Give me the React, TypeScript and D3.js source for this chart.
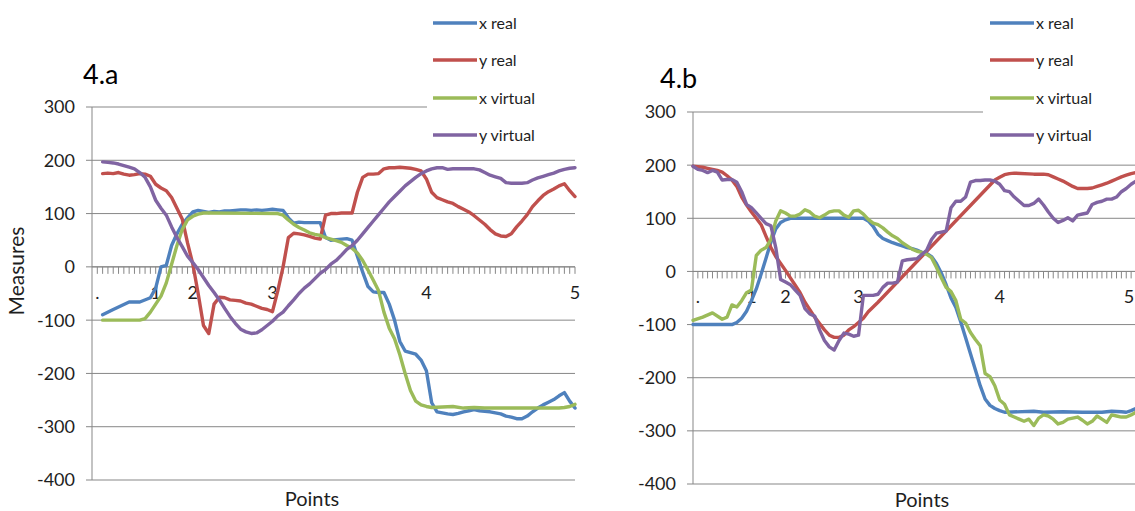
import React from "react";
import * as d3 from "d3";

type Pt = [number, number];

// Category axis: 92 points, labelled at a handful of positions
const CATEGORY_COUNT = 92;
const categoryLabels = [".", "1", "2", "3", "4", "5"];
const categoryLabelIdx = [1, 12, 19, 34, 63, 91];
const yTicks = [300, 200, 100, 0, -100, -200, -300, -400];

const seriesNames = ["x real", "y real", "x virtual", "y virtual"];
const seriesColors = ["#4F81BD", "#C0504D", "#9BBB59", "#8064A2"];

// ---- 4.a ----
const xRealA: Pt[] = [
  [2, -90], [4, -80], [7, -66], [9, -66], [11, -58], [12, -40], [13, 0], [14, 3], [15, 40], [16, 62],
  [17, 80], [18, 92], [19, 103], [20, 106], [21, 104], [22, 102], [23, 104], [24, 103], [25, 105], [26, 105],
  [27, 106], [28, 107], [29, 107], [30, 106], [31, 107], [32, 106], [33, 107], [34, 108], [35, 107], [36, 106],
  [37, 92], [38, 82], [39, 84], [40, 83], [41, 83], [42, 83], [43, 83], [44, 55], [45, 50], [46, 51],
  [47, 52], [48, 53], [49, 50], [50, 20], [51, -10], [52, -37], [53, -47], [54, -48], [55, -48], [56, -70],
  [57, -100], [58, -140], [59, -158], [60, -161], [61, -164], [62, -175], [63, -195], [64, -255], [65, -272], [66, -274],
  [67, -276], [68, -277], [69, -275], [70, -272], [71, -270], [72, -268], [73, -270], [74, -271], [75, -272], [76, -274],
  [77, -276], [78, -280], [79, -282], [80, -285], [81, -285], [82, -280], [83, -272], [84, -265], [85, -259], [86, -254],
  [87, -249], [88, -242], [89, -236], [90, -252], [91, -265],
];
const yRealA: Pt[] = [
  [2, 175], [3, 176], [4, 175], [5, 177], [6, 174], [7, 172], [8, 173], [9, 175], [10, 174], [11, 170],
  [12, 155], [13, 148], [14, 143], [15, 130], [16, 110], [17, 90], [18, 45], [19, 5], [20, -50], [21, -110],
  [22, -125], [23, -70], [24, -57], [25, -58], [26, -62], [27, -63], [28, -64], [29, -68], [30, -70], [31, -74],
  [32, -78], [33, -80], [34, -84], [35, -45], [36, 0], [37, 55], [38, 63], [39, 62], [40, 60], [41, 57],
  [42, 54], [43, 52], [44, 97], [45, 100], [46, 100], [47, 101], [48, 101], [49, 101], [50, 140], [51, 168],
  [52, 174], [53, 174], [54, 175], [55, 184], [56, 186], [57, 186], [58, 187], [59, 186], [60, 185], [61, 183],
  [62, 180], [63, 165], [64, 140], [65, 130], [66, 126], [67, 122], [68, 119], [69, 113], [70, 108], [71, 103],
  [72, 96], [73, 88], [74, 80], [75, 70], [76, 62], [77, 58], [78, 57], [79, 62], [80, 75], [81, 86],
  [82, 98], [83, 113], [84, 124], [85, 134], [86, 141], [87, 146], [88, 152], [89, 156], [90, 143], [91, 132],
];
const xVirtualA: Pt[] = [
  [2, -100], [9, -100], [10, -97], [11, -85], [12, -70], [13, -55], [14, -30], [15, 5], [16, 40], [17, 70],
  [18, 88], [19, 95], [20, 99], [21, 101], [22, 101], [35, 100], [36, 97], [37, 88], [38, 80], [39, 74],
  [40, 69], [41, 64], [42, 61], [43, 59], [44, 55], [45, 52], [46, 49], [47, 46], [48, 40], [49, 35],
  [50, 26], [51, 12], [52, -6], [53, -25], [54, -45], [55, -85], [56, -115], [57, -135], [58, -165], [59, -200],
  [60, -232], [61, -252], [62, -259], [63, -262], [64, -264], [66, -263], [68, -262], [70, -265], [72, -264], [74, -265],
  [78, -265], [82, -265], [86, -265], [88, -265], [89, -264], [90, -262], [91, -258],
];
const yVirtualA: Pt[] = [
  [2, 197], [3, 196], [4, 195], [5, 193], [6, 190], [7, 187], [8, 184], [9, 177], [10, 168], [11, 150],
  [12, 125], [13, 110], [14, 97], [15, 75], [16, 55], [17, 38], [18, 20], [19, 8], [20, -5], [21, -20],
  [22, -35], [23, -48], [24, -62], [25, -78], [26, -93], [27, -106], [28, -117], [29, -122], [30, -125], [31, -124],
  [32, -118], [33, -110], [34, -102], [35, -92], [36, -85], [37, -73], [38, -62], [39, -50], [40, -40], [41, -32],
  [42, -22], [43, -12], [44, -5], [45, 5], [46, 12], [47, 22], [48, 33], [49, 40], [50, 50], [51, 62],
  [52, 74], [53, 86], [54, 98], [55, 110], [56, 122], [57, 132], [58, 142], [59, 152], [60, 160], [61, 168],
  [62, 175], [63, 180], [64, 184], [65, 186], [66, 186], [67, 183], [68, 184], [72, 184], [73, 182], [74, 177],
  [75, 172], [76, 169], [77, 166], [78, 158], [79, 157], [81, 157], [82, 158], [83, 163], [84, 167], [85, 170],
  [86, 173], [87, 176], [88, 180], [89, 183], [90, 185], [91, 186],
];

// ---- 4.b ----
const xRealB: Pt[] = [
  [0, -100], [8, -100], [9, -96], [10, -88], [11, -75], [12, -55], [13, -33], [14, -5], [15, 25], [16, 55],
  [17, 80], [18, 92], [19, 97], [20, 100], [35, 100], [36, 95], [37, 85], [38, 70], [39, 62], [40, 58],
  [41, 54], [42, 51], [43, 48], [44, 45], [45, 43], [46, 40], [47, 36], [48, 34], [49, 28], [50, 15],
  [51, -3], [52, -25], [53, -50], [54, -68], [55, -95], [56, -125], [57, -155], [58, -185], [59, -215], [60, -240],
  [61, -252], [62, -258], [63, -262], [64, -265], [70, -263], [72, -265], [76, -264], [80, -265], [84, -265], [86, -263],
  [88, -264], [89, -265], [90, -262], [91, -258],
];
const yRealB: Pt[] = [
  [0, 198], [1, 197], [2, 196], [3, 194], [4, 192], [5, 190], [6, 187], [7, 180], [8, 172], [9, 160],
  [10, 140], [11, 125], [12, 112], [13, 100], [14, 88], [15, 66], [16, 45], [17, 28], [18, 15], [19, 2],
  [20, -12], [21, -26], [22, -40], [23, -58], [24, -72], [25, -86], [26, -98], [27, -110], [28, -120], [29, -124],
  [30, -124], [31, -120], [32, -110], [33, -104], [34, -96], [35, -88], [36, -76], [38, -58], [62, 172], [63, 177],
  [64, 182], [65, 184], [66, 185], [70, 183], [72, 183], [73, 182], [74, 178], [75, 174], [76, 170], [77, 165],
  [78, 160], [79, 156], [81, 156], [82, 157], [83, 160], [84, 163], [85, 166], [86, 170], [87, 174], [88, 178],
  [89, 181], [90, 184], [91, 186],
];
const xVirtualB: Pt[] = [
  [0, -92], [2, -86], [4, -78], [6, -90], [7, -86], [8, -63], [9, -67], [10, -55], [11, -40], [12, -35],
  [13, 30], [14, 40], [15, 45], [16, 60], [17, 95], [18, 114], [19, 110], [20, 104], [21, 104], [22, 108],
  [23, 116], [24, 112], [25, 104], [26, 101], [27, 106], [28, 112], [29, 114], [30, 114], [31, 106], [32, 102],
  [33, 114], [34, 115], [35, 108], [36, 98], [37, 91], [38, 88], [39, 82], [40, 74], [41, 67], [42, 62],
  [43, 54], [44, 48], [45, 42], [46, 38], [47, 36], [48, 32], [49, 26], [50, 8], [51, -12], [52, -30],
  [53, -38], [54, -55], [55, -90], [56, -97], [57, -115], [58, -128], [59, -140], [60, -192], [61, -198], [62, -215],
  [63, -242], [64, -250], [65, -270], [66, -274], [67, -278], [68, -282], [69, -278], [70, -290], [71, -276], [72, -270],
  [73, -272], [74, -278], [75, -287], [76, -284], [77, -278], [78, -276], [79, -274], [80, -280], [81, -287], [82, -282],
  [83, -272], [84, -278], [85, -284], [86, -270], [87, -272], [88, -274], [89, -274], [90, -270], [91, -265],
];
const yVirtualB: Pt[] = [
  [0, 198], [1, 192], [2, 190], [3, 186], [4, 190], [5, 187], [6, 172], [7, 173], [8, 173], [9, 168],
  [10, 150], [11, 126], [12, 120], [13, 110], [14, 100], [15, 90], [16, 86], [17, 45], [18, -15], [19, -20],
  [20, -25], [21, -35], [22, -45], [23, -70], [24, -80], [25, -84], [26, -110], [27, -130], [28, -142], [29, -148],
  [30, -130], [31, -116], [32, -118], [33, -122], [34, -120], [35, -45], [36, -45], [37, -45], [38, -43], [39, -30],
  [40, -22], [41, -22], [42, -20], [43, 20], [44, 22], [45, 23], [46, 24], [47, 32], [48, 40], [49, 60],
  [50, 72], [51, 74], [52, 76], [53, 120], [54, 132], [55, 132], [56, 140], [57, 168], [58, 171], [59, 171],
  [60, 172], [61, 172], [62, 170], [63, 164], [64, 152], [65, 150], [66, 140], [67, 132], [68, 124], [69, 124],
  [70, 128], [71, 136], [72, 125], [73, 112], [74, 100], [75, 92], [76, 96], [77, 101], [78, 95], [79, 106],
  [80, 108], [81, 110], [82, 126], [83, 130], [84, 132], [85, 136], [86, 136], [87, 140], [88, 150], [89, 156],
  [90, 164], [91, 170],
];

const FONT = "Lato, 'Open Sans', sans-serif";
const GRID = "#878787";
const TEXT = "#1e1e1e";
const SVG_W = 1135;

type PanelProps = {
  title: string;
  series: Pt[][];
  xRange: [number, number];
  yRange: [number, number];
  titlePos: [number, number];
  legendX: number;
  legendBoxX: number;
  catLabelY: number;
  xTitlePos: [number, number];
  yTitle?: string;
  yTitlePos?: [number, number];
};

function Panel(p: PanelProps) {
  const x = d3.scaleLinear().domain([0, CATEGORY_COUNT - 1]).range(p.xRange);
  const y = d3.scaleLinear().domain([-400, 300]).range(p.yRange);
  const line = d3
    .line<Pt>()
    .x((d) => x(d[0]))
    .y((d) => y(d[1]));
  const [x0, x1] = p.xRange;
  const y0 = y(0);
  const legendYs = [23, 60, 98, 135];

  return (
    <g>
      {/* horizontal gridlines with small outside ticks on the value axis */}
      {yTicks.map((t) => (
        <g key={t}>
          <line x1={x0 - 6} x2={x1} y1={y(t)} y2={y(t)} stroke={GRID} strokeWidth={1} />
          <text
            x={x0 - 17}
            y={y(t)}
            dy="0.36em"
            textAnchor="end"
            fontFamily={FONT}
            fontSize={18}
            fill={TEXT}
          >
            {t}
          </text>
        </g>
      ))}
      <line x1={x0} x2={x0} y1={y(300)} y2={y(-400)} stroke={GRID} strokeWidth={1} />

      {/* category axis crossing at 0 */}
      <line x1={x0} x2={x1} y1={y0} y2={y0} stroke={GRID} strokeWidth={1} />
      {d3.range(1, CATEGORY_COUNT).map((i) => (
        <line key={i} x1={x(i)} x2={x(i)} y1={y0} y2={y0 + 7} stroke={GRID} strokeWidth={1} />
      ))}
      {categoryLabels.map((lab, i) => (
        <text
          key={lab}
          x={Math.min(x(categoryLabelIdx[i]), SVG_W - 6)}
          y={p.catLabelY}
          textAnchor="middle"
          fontFamily={FONT}
          fontSize={18}
          fill={TEXT}
        >
          {lab}
        </text>
      ))}

      {/* legend panel sits above the top gridline */}
      <rect x={p.legendBoxX} y={0} width={200} height={150} fill="#ffffff" />

      {p.series.map((s, i) => (
        <path
          key={i}
          d={line(s) ?? ""}
          fill="none"
          stroke={seriesColors[i]}
          strokeWidth={3.4}
          strokeLinejoin="round"
          strokeLinecap="round"
        />
      ))}

      {seriesNames.map((name, i) => (
        <g key={name}>
          <line
            x1={p.legendX}
            x2={p.legendX + 44}
            y1={legendYs[i]}
            y2={legendYs[i]}
            stroke={seriesColors[i]}
            strokeWidth={3.4}
          />
          <text
            x={p.legendX + 46}
            y={legendYs[i]}
            dy="0.36em"
            fontFamily={FONT}
            fontSize={16}
            fill={TEXT}
          >
            {name}
          </text>
        </g>
      ))}

      <text x={p.titlePos[0]} y={p.titlePos[1]} fontFamily={FONT} fontSize={27} fill="#000">
        {p.title}
      </text>
      <text
        x={p.xTitlePos[0]}
        y={p.xTitlePos[1]}
        textAnchor="middle"
        fontFamily={FONT}
        fontSize={20}
        fill={TEXT}
      >
        Points
      </text>
      {p.yTitle && p.yTitlePos && (
        <text
          transform={`translate(${p.yTitlePos[0]},${p.yTitlePos[1]}) rotate(-90)`}
          textAnchor="middle"
          dy="0.35em"
          fontFamily={FONT}
          fontSize={21}
          fill={TEXT}
        >
          {p.yTitle}
        </text>
      )}
    </g>
  );
}

export default function App() {
  return (
    <svg
      width={SVG_W}
      height={511}
      viewBox={`0 0 ${SVG_W} 511`}
      style={{ position: "absolute", left: 0, top: 0, background: "#fff" }}
    >
      <rect width={SVG_W} height={511} fill="#fff" />
      <Panel
        title="4.a"
        series={[xRealA, yRealA, xVirtualA, yVirtualA]}
        xRange={[92, 575]}
        yRange={[480, 107]}
        titlePos={[83, 84]}
        legendX={433}
        legendBoxX={427}
        catLabelY={299}
        xTitlePos={[312, 506]}
        yTitle="Measures"
        yTitlePos={[17, 271]}
      />
      <Panel
        title="4.b"
        series={[xRealB, yRealB, xVirtualB, yVirtualB]}
        xRange={[693, 1136]}
        yRange={[484, 112]}
        titlePos={[660, 88]}
        legendX={990}
        legendBoxX={983}
        catLabelY={303}
        xTitlePos={[922, 507]}
      />
    </svg>
  );
}
